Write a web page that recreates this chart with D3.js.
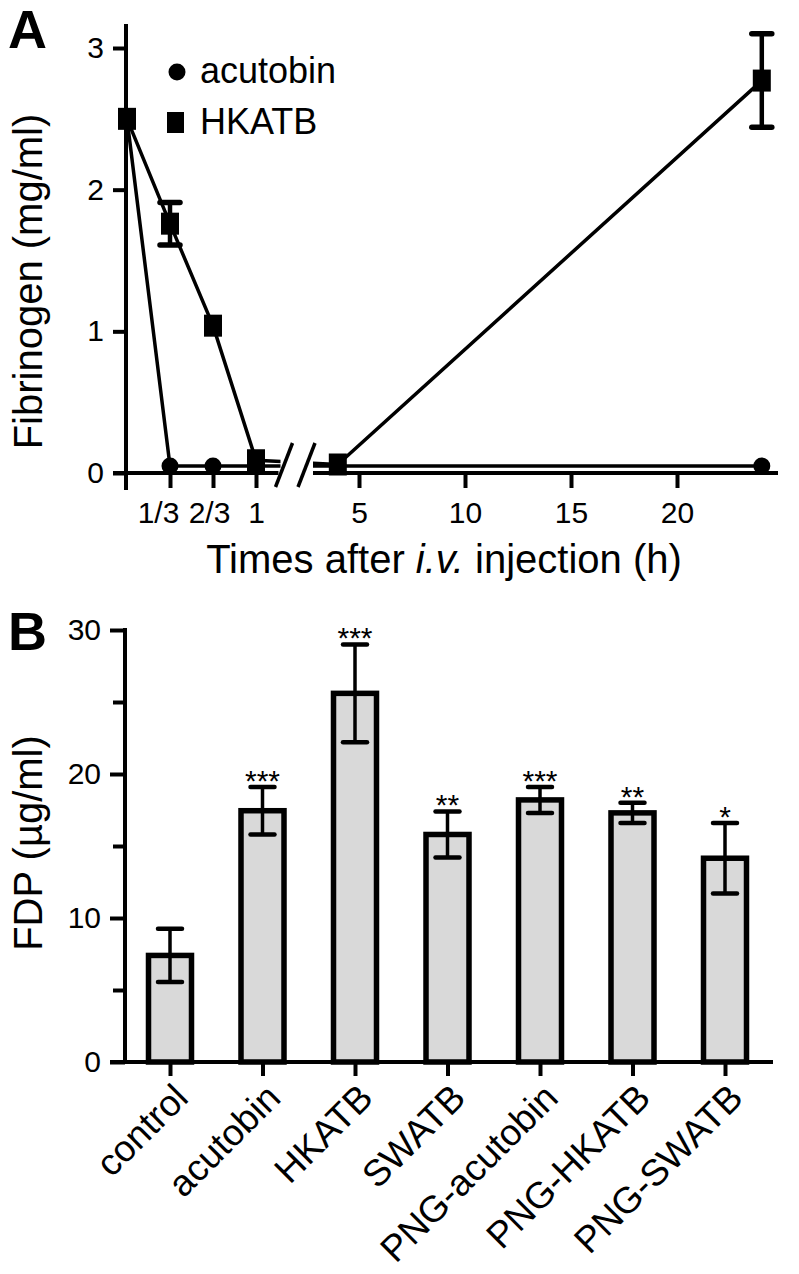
<!DOCTYPE html>
<html>
<head>
<meta charset="utf-8">
<script src="https://cdn.jsdelivr.net/npm/d3@7"></script>
<style>
  body { margin: 0; background: #fff; }
  svg { display: block; }
  text { font-family: "Liberation Sans", Arial, sans-serif; fill: #000; }
</style>
</head>
<body>
<div id="chart"></div>
<script>
// ---- panel A data: fibrinogen after i.v. injection
var hoursA = [0, 1 / 3, 2 / 3, 1, 4, 24];
var acutobinA = [2.5, 0.05, 0.05, 0.05, 0.05, 0.05];
var hkatbA = [2.5, 1.76, 1.04, 0.09, 0.06, 2.77];
var hkatbErrA = [0, 0.15, 0, 0, 0, 0.33];
var fracTicks = [1 / 3, 2 / 3, 1];
var fracLabels = ["1/3", "2/3", "1"];
var hourTicks = [5, 10, 15, 20];
var yTicksA = [0, 1, 2, 3];

// ---- panel B data: FDP
var groupsB = ["control", "acutobin", "HKATB", "SWATB", "PNG-acutobin", "PNG-HKATB", "PNG-SWATB"];
var fdpB = [7.4, 17.45, 25.6, 15.8, 18.2, 17.3, 14.15];
var fdpErrB = [1.85, 1.65, 3.4, 1.6, 0.9, 0.7, 2.45];
var starsB = ["", "***", "***", "**", "***", "**", "*"];
var yTicksB = [0, 10, 20, 30];
var yMinorB = [5, 15, 25];

var svg = d3.select("#chart").append("svg")
  .attr("width", 799)
  .attr("height", 1274);

var axisW = 4, lineW = 3.5, tickFont = "30px";

// ================= Panel A =================
var gA = svg.append("g");

var yA = d3.scaleLinear().domain([0, 3]).range([473, 48]);
var xLeft = d3.scaleLinear().domain([0, 1]).range([127, 256]);
var xRight = d3.scaleLinear().domain([5, 20]).range([359, 677]);
var breakT = 1.19; // end of first segment (h)
var rightStart = xRight.invert(313);
var rightEnd = xRight.invert(778);

function xA(t) {
  return t <= breakT ? xLeft(t) : xRight(t);
}

// clip paths for the broken x axis
var defs = svg.append("defs");
defs.append("clipPath").attr("id", "segL")
  .append("rect").attr("x", 100).attr("y", 0).attr("width", xLeft(breakT) - 100).attr("height", 500);
defs.append("clipPath").attr("id", "segR")
  .append("rect").attr("x", xRight(rightStart)).attr("y", 0).attr("width", 500).attr("height", 500);

// y axis
var yAxisA = d3.axisLeft(yA).tickValues(yTicksA).tickFormat(d3.format("d"))
  .tickSize(13).tickPadding(9).tickSizeOuter(0);
var gyA = gA.append("g").attr("transform", "translate(126,0)").call(yAxisA);
gyA.select(".domain").remove();
gyA.selectAll("line").attr("stroke", "#000").attr("stroke-width", axisW);
gyA.selectAll("text").style("font-size", tickFont);
gA.append("line")
  .attr("x1", 126).attr("x2", 126)
  .attr("y1", yA(3.17)).attr("y2", yA(0) + 17)
  .attr("stroke", "#000").attr("stroke-width", axisW);

// x axis, left segment (labels nudged left like the original)
var fracShift = [-12, -4, 0];
var xAxisL = d3.axisBottom(xLeft).tickValues(fracTicks)
  .tickFormat(function (d, i) { return fracLabels[i]; })
  .tickSize(15).tickPadding(14).tickSizeOuter(0);
var gxL = gA.append("g").attr("transform", "translate(0,473)").call(xAxisL);
gxL.select(".domain").remove();
gxL.selectAll("text").attr("dx", function (d, i) { return fracShift[i]; });

// x axis, right segment
var xAxisR = d3.axisBottom(xRight).tickValues(hourTicks)
  .tickSize(15).tickPadding(14).tickSizeOuter(0);
var gxR = gA.append("g").attr("transform", "translate(0,473)").call(xAxisR);
gxR.select(".domain").remove();

[gxL, gxR].forEach(function (g) {
  g.selectAll("line").attr("stroke", "#000").attr("stroke-width", axisW);
  g.selectAll("text").style("font-size", tickFont);
});

gA.append("line")
  .attr("x1", 113).attr("x2", xLeft(breakT) - 2)
  .attr("y1", yA(0)).attr("y2", yA(0))
  .attr("stroke", "#000").attr("stroke-width", axisW);
gA.append("line")
  .attr("x1", xRight(rightStart)).attr("x2", xRight(rightEnd))
  .attr("y1", yA(0)).attr("y2", yA(0))
  .attr("stroke", "#000").attr("stroke-width", axisW);

// break marks
[xLeft(breakT) + 2, xRight(rightStart) - 8].forEach(function (bx) {
  gA.append("line")
    .attr("x1", bx - 7).attr("y1", 487)
    .attr("x2", bx + 10).attr("y2", 443)
    .attr("stroke", "#000").attr("stroke-width", 3.5);
});

// data lines, drawn in both segments and clipped
var lineA = d3.line()
  .x(function (d) { return xA(d[0]); })
  .y(function (d) { return yA(d[1]); });

var seriesA = [
  { name: "acutobin", pts: d3.zip(hoursA, acutobinA) },
  { name: "HKATB", pts: d3.zip(hoursA, hkatbA) }
];

["segL", "segR"].forEach(function (id) {
  gA.append("g").attr("clip-path", "url(#" + id + ")")
    .selectAll("path").data(seriesA).enter().append("path")
    .attr("d", function (s) { return lineA(s.pts); })
    .attr("fill", "none")
    .attr("stroke", "#000")
    .attr("stroke-width", lineW);
});

// error bars HKATB
var errA = gA.append("g");
hoursA.forEach(function (t, i) {
  var e = hkatbErrA[i];
  if (!e) return;
  var cx = xA(t);
  errA.append("line")
    .attr("x1", cx).attr("x2", cx)
    .attr("y1", yA(hkatbA[i] + e)).attr("y2", yA(hkatbA[i] - e))
    .attr("stroke", "#000").attr("stroke-width", 4.5);
  [hkatbA[i] + e, hkatbA[i] - e].forEach(function (v) {
    errA.append("line")
      .attr("x1", cx - 10).attr("x2", cx + 10)
      .attr("y1", yA(v)).attr("y2", yA(v))
      .attr("stroke", "#000").attr("stroke-width", 5.5)
      .attr("stroke-linecap", "round");
  });
});

// markers
gA.append("g").selectAll("circle").data(d3.zip(hoursA, acutobinA)).enter()
  .append("circle")
  .attr("cx", function (d) { return xA(d[0]); })
  .attr("cy", function (d) { return yA(d[1]); })
  .attr("r", 8.5)
  .attr("fill", "#000");

gA.append("g").selectAll("rect").data(d3.zip(hoursA, hkatbA)).enter()
  .append("rect")
  .attr("x", function (d) { return xA(d[0]) - 9; })
  .attr("y", function (d) { return yA(d[1]) - 11; })
  .attr("width", 18)
  .attr("height", 22)
  .attr("fill", "#000");

// legend
gA.append("circle").attr("cx", 177).attr("cy", 72).attr("r", 8.5).attr("fill", "#000");
gA.append("text").attr("x", 200).attr("y", 83).style("font-size", "36px").text("acutobin");
gA.append("rect").attr("x", 167).attr("y", 112).attr("width", 17).attr("height", 21).attr("fill", "#000");
gA.append("text").attr("x", 200).attr("y", 134).style("font-size", "36px").text("HKATB");

// titles
gA.append("text")
  .attr("transform", "translate(42," + ((113 + 450) / 2) + ") rotate(-90)")
  .attr("text-anchor", "middle")
  .style("font-size", "40px")
  .text("Fibrinogen (mg/ml)");

var xt = gA.append("text")
  .attr("x", 444).attr("y", 573)
  .attr("text-anchor", "middle")
  .style("font-size", "40px");
xt.append("tspan").text("Times after ");
xt.append("tspan").style("font-style", "italic").text("i.v.");
xt.append("tspan").text(" injection (h)");

svg.append("text").attr("x", 8).attr("y", 48)
  .style("font-size", "54px").style("font-weight", "bold").text("A");

// ================= Panel B =================
var gB = svg.append("g");

var yB = d3.scaleLinear().domain([0, 30]).range([1062, 630]);
var xB = d3.scalePoint().domain(groupsB).range([170, 725]);
var barW = 43;

var yAxisB = d3.axisLeft(yB).tickValues(yTicksB).tickSize(15).tickPadding(9).tickSizeOuter(0);
var gyB = gB.append("g").attr("transform", "translate(125,0)").call(yAxisB);
gyB.select(".domain").remove();
gyB.selectAll("line").attr("stroke", "#000").attr("stroke-width", axisW);
gyB.selectAll("text").style("font-size", tickFont);

var yMinorAxisB = d3.axisLeft(yB).tickValues(yMinorB).tickSize(12).tickFormat("").tickSizeOuter(0);
var gyBm = gB.append("g").attr("transform", "translate(125,0)").call(yMinorAxisB);
gyBm.select(".domain").remove();
gyBm.selectAll("line").attr("stroke", "#000").attr("stroke-width", axisW);

gB.append("line")
  .attr("x1", 125).attr("x2", 125)
  .attr("y1", yB(30) - 2).attr("y2", yB(0))
  .attr("stroke", "#000").attr("stroke-width", axisW);

var xAxisB = d3.axisBottom(xB).tickSize(14).tickFormat("").tickSizeOuter(0);
var gxB = gB.append("g").attr("transform", "translate(0,1062)").call(xAxisB);
gxB.select(".domain").remove();
gxB.selectAll("line").attr("stroke", "#000").attr("stroke-width", axisW);

// bars
gB.append("g").selectAll("rect").data(groupsB).enter()
  .append("rect")
  .attr("x", function (d) { return xB(d) - barW / 2; })
  .attr("y", function (d, i) { return yB(fdpB[i]); })
  .attr("width", barW)
  .attr("height", function (d, i) { return yB(0) - yB(fdpB[i]); })
  .attr("fill", "#d9d9d9")
  .attr("stroke", "#000")
  .attr("stroke-width", 5.5);

gB.append("line")
  .attr("x1", 110).attr("x2", 773)
  .attr("y1", yB(0)).attr("y2", yB(0))
  .attr("stroke", "#000").attr("stroke-width", axisW);

// error bars
var errB = gB.append("g");
groupsB.forEach(function (g, i) {
  var cx = xB(g), hi = fdpB[i] + fdpErrB[i], lo = fdpB[i] - fdpErrB[i];
  errB.append("line")
    .attr("x1", cx).attr("x2", cx)
    .attr("y1", yB(hi)).attr("y2", yB(lo))
    .attr("stroke", "#000").attr("stroke-width", 3.5);
  [hi, lo].forEach(function (v) {
    errB.append("line")
      .attr("x1", cx - 12).attr("x2", cx + 12)
      .attr("y1", yB(v)).attr("y2", yB(v))
      .attr("stroke", "#000").attr("stroke-width", 4.5)
      .attr("stroke-linecap", "round");
  });
  if (starsB[i]) {
    errB.append("text")
      .attr("x", cx).attr("y", yB(hi) + 4)
      .attr("text-anchor", "middle")
      .style("font-size", "30px")
      .text(starsB[i]);
  }
});

// rotated category labels
gB.append("g").selectAll("text").data(groupsB).enter()
  .append("text")
  .attr("transform", function (d) { return "translate(" + (xB(d) + 20) + ",1100) rotate(-45)"; })
  .attr("text-anchor", "end")
  .style("font-size", "37px")
  .text(function (d) { return d; });

gB.append("text")
  .attr("transform", "translate(42," + ((733 + 953) / 2) + ") rotate(-90)")
  .attr("text-anchor", "middle")
  .style("font-size", "40px")
  .text("FDP (\u00b5g/ml)");

svg.append("text").attr("x", 8).attr("y", 650)
  .style("font-size", "54px").style("font-weight", "bold").text("B");
</script>
</body>
</html>
